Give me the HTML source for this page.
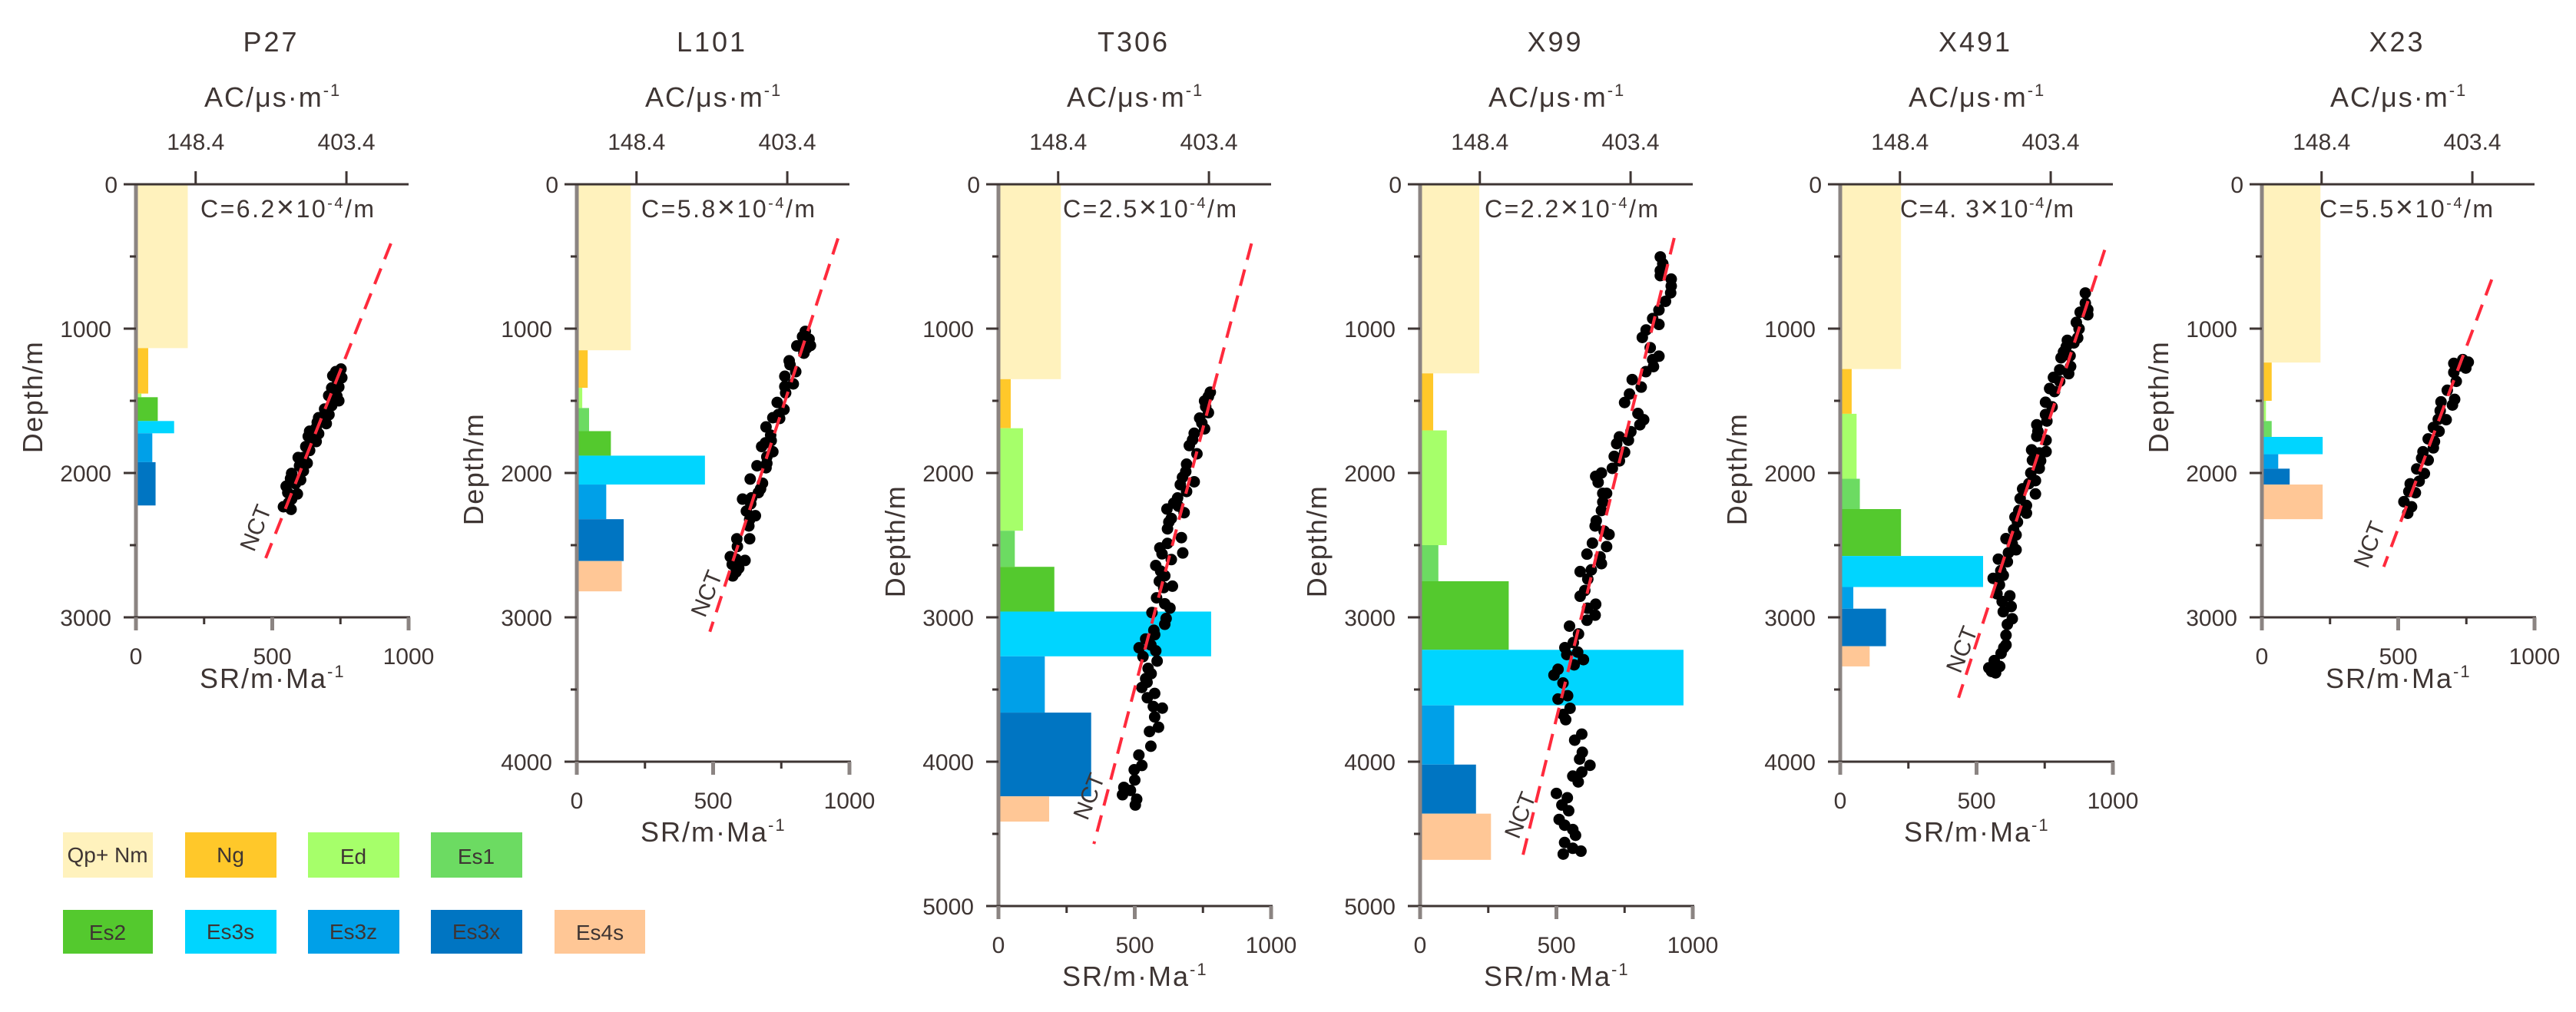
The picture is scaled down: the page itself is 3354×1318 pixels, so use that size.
<!DOCTYPE html>
<html lang="en">
<head>
<meta charset="utf-8">
<title>Sedimentation rate and acoustic compaction profiles</title>
<style>
html,body{margin:0;padding:0;background:#fff;}
svg{display:block;font-family:"Liberation Sans",Arial,sans-serif;fill:#3e3533;}
</style>
</head>
<body>
<svg id="chart" xmlns="http://www.w3.org/2000/svg" width="3354" height="1318" viewBox="0 0 3354 1318">
  <rect x="0" y="0" width="3354" height="1318" fill="#ffffff"/>
  <g id="wells"></g>
  <g font-size="28" text-anchor="middle">
    <g><rect x="82" y="1084" width="117" height="59" fill="#FFF2BD"/><text x="140" y="1123">Qp+ Nm</text></g>
    <g><rect x="241" y="1084" width="119" height="59" fill="#FFC82A"/><text x="300" y="1123">Ng</text></g>
    <g><rect x="401" y="1084" width="119" height="59" fill="#A6FF6A"/><text x="460" y="1125">Ed</text></g>
    <g><rect x="561" y="1084" width="119" height="59" fill="#6CDB62"/><text x="620" y="1125">Es1</text></g>
    <g><rect x="82" y="1185" width="117" height="57" fill="#54C92E"/><text x="140" y="1224">Es2</text></g>
    <g><rect x="241" y="1185" width="119" height="57" fill="#00D5FF"/><text x="300" y="1223">Es3s</text></g>
    <g><rect x="401" y="1185" width="119" height="57" fill="#00A0E8"/><text x="460" y="1223">Es3z</text></g>
    <g><rect x="561" y="1185" width="119" height="57" fill="#0075C2"/><text x="620" y="1223">Es3x</text></g>
    <g><rect x="722" y="1185" width="118" height="57" fill="#FFC796"/><text x="781" y="1224">Es4s</text></g>
  </g>
</svg>
<script>
const srTicks = [0, 500, 1000];
const srMinorTicks = [250, 750];
const acTickLabels = ['148.4', '403.4'];
const acTickSR = [219, 772];

const p27Strata = ['Qp','Ng','Ed','Es2','Es3s','Es3z','Es3x'];
const p27Tops = [0,1135,1450,1475,1640,1725,1925];
const p27Bases = [1135,1450,1475,1640,1725,1925,2225];
const p27Rates = [190,45,20,80,140,60,72];
const p27SR = [752,733,722,755,740,718,744,731,707,737,744,718,692,708,670,693,665,698,637,661,670,632,646,661,623,637,595,614,628,600,571,614,567,604,551,585,557,592,571,560,541,569];
const p27Depth = [1280,1298,1326,1340,1365,1411,1404,1436,1464,1468,1500,1533,1557,1596,1617,1635,1649,1658,1711,1688,1728,1746,1773,1782,1817,1844,1893,1893,1932,1950,2003,1986,2039,2048,2092,2074,2136,2145,2181,2207,2234,2252];
const p27Nct = [[935,410],[476,2590]];

const l101Strata = ['Qp','Ng','Ed','Es1','Es2','Es3s','Es3z','Es3x','Es4s'];
const l101Tops = [0,1150,1410,1550,1710,1880,2080,2320,2610];
const l101Bases = [1150,1410,1550,1710,1880,2080,2320,2610,2820];
const l101Rates = [198,40,20,45,125,470,108,172,165];
const l101SR = [838,828,852,838,857,807,843,833,779,782,803,763,794,763,766,735,760,739,719,744,694,711,713,692,678,719,697,697,661,694,636,681,674,666,608,641,638,622,655,634,631,634,587,589,563,617,584,570,594,584,572];
const l101Depth = [1019,1055,1073,1099,1117,1120,1135,1170,1223,1250,1298,1330,1383,1401,1445,1511,1560,1596,1617,1622,1681,1738,1776,1791,1817,1853,1888,1933,1950,1964,2042,2071,2110,2136,2181,2172,2213,2264,2296,2323,2367,2456,2456,2509,2580,2606,2597,2633,2659,2686,2713];
const l101Nct = [[958,375],[488,3100]];

const t306Strata = ['Qp','Ng','Ed','Es1','Es2','Es3s','Es3z','Es3x','Es4s'];
const t306Tops = [0,1350,1690,2400,2650,2960,3270,3660,4240];
const t306Bases = [1350,1690,2400,2650,2960,3270,3660,4240,4415];
const t306Rates = [229,45,90,60,205,780,170,340,186];
const t306SR = [777,770,756,770,746,756,718,700,728,690,687,718,667,690,657,643,618,681,634,620,671,620,592,676,634,577,610,638,606,580,610,629,563,615,610,573,540,559,516,577,530,582,549,540,526,573,546,568,601,573,587,554,559,515,526,498,500,460,484,455,507,502,760,738,712,675,660,625,600,595,590,570,560,545];
const t306Depth = [1440,1470,1501,1582,1654,1694,1725,1810,1867,1939,1990,2061,2081,2128,2173,2209,2250,2275,2315,2387,2448,2488,2519,2554,2600,2641,2712,2784,2794,2865,2906,2936,2967,3008,3048,3120,3150,3191,3211,3232,3272,3303,3354,3425,3486,3527,3557,3618,3629,3690,3761,3791,3893,3954,4026,4056,4127,4178,4199,4229,4260,4300,1540,1620,1770,2030,2230,2340,2560,2680,2750,3090,3390,3450];
const t306Nct = [[928,410],[350,4570]];

const x99Strata = ['Qp','Ng','Ed','Es1','Es2','Es3s','Es3z','Es3x','Es4s'];
const x99Tops = [0,1310,1705,2500,2750,3225,3610,4020,4360];
const x99Bases = [1310,1705,2500,2750,3225,3610,4020,4360,4680];
const x99Rates = [217,48,98,67,325,966,125,205,260];
const x99SR = [881,890,881,881,921,921,919,900,876,853,876,829,815,844,876,853,856,828,778,811,768,750,799,820,806,773,731,764,721,750,712,731,705,665,644,653,670,684,670,665,646,642,675,693,684,632,612,660,665,628,587,615,604,587,614,644,642,612,548,581,562,531,578,538,599,565,506,491,524,541,506,550,524,534,593,567,595,585,623,593,560,580,500,540,520,545,510,530,560,570,530,560,525,590];
const x99Depth = [503,550,598,633,657,705,752,811,871,930,971,1009,1061,1132,1191,1215,1263,1298,1353,1405,1453,1512,1588,1631,1666,1714,1750,1773,1797,1856,1885,1916,1968,2000,2023,2065,2141,2141,2201,2260,2331,2367,2403,2426,2510,2486,2562,2581,2628,2671,2683,2735,2814,2854,2937,2909,2985,3020,3061,3115,3175,3210,3241,3258,3293,3329,3360,3400,3455,3543,3566,3630,3673,3709,3809,3851,3935,3982,4025,4072,4100,4140,4220,4250,4300,4340,4400,4440,4470,4510,4560,4600,4640,4620];
const x99Nct = [[932,372],[373,4680]];

const x491Strata = ['Qp','Ng','Ed','Es1','Es2','Es3s','Es3z','Es3x','Es4s'];
const x491Tops = [0,1280,1590,2040,2250,2575,2790,2940,3200];
const x491Bases = [1280,1590,2040,2250,2575,2790,2940,3200,3340];
const x491Rates = [223,42,60,72,223,524,48,168,108];
const x491SR = [899,899,908,908,880,866,876,871,833,857,829,819,843,810,845,805,838,782,805,768,786,753,777,753,758,721,725,721,755,702,755,730,705,735,730,699,716,692,669,716,660,683,683,655,641,650,636,645,608,631,645,617,580,613,589,598,561,584,575,622,594,627,598,631,613,608,608,600,590,565,545,585,570,555];
const x491Depth = [753,824,868,904,886,957,1001,1064,1081,1099,1126,1161,1188,1202,1262,1285,1312,1338,1365,1415,1436,1510,1542,1595,1640,1666,1711,1746,1773,1840,1852,1861,1911,1915,1968,2000,2053,2074,2110,2145,2177,2225,2278,2260,2305,2340,2393,2429,2455,2491,2532,2553,2597,2615,2677,2709,2730,2775,2837,2851,2890,2925,2961,3010,3049,3124,3191,3210,3250,3300,3350,3340,3385,3375];
const x491Nct = [[970,455],[434,3557]];

const x23Strata = ['Qp','Ng','Ed','Es1','Es3s','Es3z','Es3x','Es4s'];
const x23Tops = [0,1235,1500,1640,1750,1870,1970,2080];
const x23Bases = [1235,1500,1640,1750,1870,1970,2080,2320];
const x23Rates = [215,36,15,36,223,60,102,223];
const x23SR = [737,757,704,748,723,704,713,680,707,657,699,654,647,676,629,650,610,633,629,591,610,586,568,596,544,577,563,539,521,549,535];
const x23Depth = [1215,1232,1241,1273,1259,1303,1365,1427,1490,1507,1529,1569,1628,1631,1685,1711,1764,1782,1826,1853,1911,1897,1972,2004,2075,2057,2137,2128,2199,2234,2279];
const x23Nct = [[843,660],[447,2650]];

const strataColors = {Qp:'#FFF2BD',Ng:'#FFC82A',Ed:'#A6FF6A',Es1:'#6CDB62',Es2:'#54C92E',Es3s:'#00D5FF',Es3z:'#00A0E8',Es3x:'#0075C2',Es4s:'#FFC796'};

const NS = 'http://www.w3.org/2000/svg';
const root = document.getElementById('wells');

function make(parent, tag, attrs, txt) {
  const el = document.createElementNS(NS, tag);
  for (const k in attrs) el.setAttribute(k, attrs[k]);
  if (txt !== undefined) el.textContent = txt;
  parent.appendChild(el);
  return el;
}

function drawWell(well, left, depthMax, strata, tops, bases, rates, srs, depths, nct, cValue, cOffset, nctSR, nctDepth) {
  const top = 240;
  const sx = v => left + v * 0.355;
  const sy = d => top + d * 0.188;
  const bottom = sy(depthMax);

  const g = make(root, 'g', {});
  
  

  const title = make(g, 'text', {x: left + 176, y: 67, 'font-size': 36, 'text-anchor': 'middle', 'letter-spacing': 3}, well);
  
  

  strata.forEach((s, i) => {
    const bar = make(g, 'rect', {x: sx(0), y: sy(tops[i]), width: sx(rates[i]) - sx(0), height: sy(bases[i]) - sy(tops[i]), fill: strataColors[s]});
    
    
  });

  srs.forEach((v, i) => {
    const dot = make(g, 'circle', {cx: sx(v), cy: sy(depths[i]), r: 7.5, fill: '#000000'});
    
    
  });

  const line = make(g, 'line', {x1: sx(nct[0][0]), y1: sy(nct[0][1]), x2: sx(nct[1][0]), y2: sy(nct[1][1]), stroke: '#FF2A3C', 'stroke-width': 4, 'stroke-dasharray': '22 13'});
  
  

  const nctLabel = make(g, 'text', {'font-size': 30, 'text-anchor': 'middle', 'dominant-baseline': 'middle', transform: 'translate(' + sx(nctSR) + ' ' + sy(nctDepth) + ') rotate(-68)'}, 'NCT');
  
  

  const yAxis = make(g, 'line', {x1: left, y1: top, x2: left, y2: bottom + 17, stroke: '#8b8482', 'stroke-width': 5});
  
  

  const topAxis = make(g, 'line', {x1: left - 16, y1: top, x2: sx(1000), y2: top, stroke: '#3e3533', 'stroke-width': 3});
  
  

  const bottomAxis = make(g, 'line', {x1: left - 16, y1: bottom, x2: sx(1000) + 2, y2: bottom, stroke: '#3e3533', 'stroke-width': 3});
  
  

  acTickSR.forEach((v, i) => {
    const t = make(g, 'line', {x1: sx(v), y1: top, x2: sx(v), y2: top - 17, stroke: '#3e3533', 'stroke-width': 3});
    
    
    const l = make(g, 'text', {x: sx(v), y: 195, 'font-size': 30, 'text-anchor': 'middle'}, acTickLabels[i]);
    
    
  });

  srTicks.forEach(v => {
    const t = make(g, 'line', {x1: sx(v), y1: bottom, x2: sx(v), y2: bottom + 17, stroke: '#8b8482', 'stroke-width': 5});
    
    
    const l = make(g, 'text', {x: sx(v), y: bottom + 61, 'font-size': 30, 'text-anchor': 'middle'}, String(v));
    
    
  });

  srMinorTicks.forEach(v => {
    const t = make(g, 'line', {x1: sx(v), y1: bottom, x2: sx(v), y2: bottom + 9, stroke: '#3e3533', 'stroke-width': 3});
    
    
  });

  for (let d = 0; d <= depthMax; d += 500) {
    if (d % 1000 === 0) {
      if (d > 0 && d < depthMax) {
        const t = make(g, 'line', {x1: left - 16, y1: sy(d), x2: left, y2: sy(d), stroke: '#3e3533', 'stroke-width': 3});
        
        
      }
      const l = make(g, 'text', {x: d === 0 ? left - 24 : left - 32, y: sy(d) + 11, 'font-size': 30, 'text-anchor': 'end'}, String(d));
      
      
    } else {
      const t = make(g, 'line', {x1: left - 8, y1: sy(d), x2: left, y2: sy(d), stroke: '#3e3533', 'stroke-width': 3});
      
      
    }
  }

  const depthTitle = make(g, 'text', {'font-size': 36, 'text-anchor': 'middle', 'letter-spacing': 1.5, transform: 'translate(' + (left - 122) + ' ' + ((top + bottom) / 2 - 5) + ') rotate(-90)'}, 'Depth/m');
  
  

  const acTitle = make(g, 'text', {x: left + 89, y: 139, 'font-size': 36, 'letter-spacing': 2}, 'AC/μs·m');
  make(acTitle, 'tspan', {'font-size': 22, dy: -14}, '-1');
  
  

  const srTitle = make(g, 'text', {x: left + 83, y: bottom + (depthMax === 3000 ? 92 : 104), 'font-size': 36, 'letter-spacing': 2}, 'SR/m·Ma');
  make(srTitle, 'tspan', {'font-size': 22, dy: -14}, '-1');
  
  

  const cText = make(g, 'text', {x: left + cOffset, y: 283, 'font-size': 32, textLength: 226, lengthAdjust: 'spacing'}, 'C=' + cValue);
  make(cText, 'tspan', {'font-size': 40}, '×');
  make(cText, 'tspan', {}, '10');
  make(cText, 'tspan', {'font-size': 20, dy: -12}, '-4');
  make(cText, 'tspan', {dy: 12}, '/m');
  
  
}

drawWell('P27', 177, 3000, p27Strata, p27Tops, p27Bases, p27Rates, p27SR, p27Depth, p27Nct, '6.2', 84, 445, 2385);
drawWell('L101', 751, 4000, l101Strata, l101Tops, l101Bases, l101Rates, l101SR, l101Depth, l101Nct, '5.8', 84, 482, 2840);
drawWell('T306', 1300, 5000, t306Strata, t306Tops, t306Bases, t306Rates, t306SR, t306Depth, t306Nct, '2.5', 84, 338, 4245);
drawWell('X99', 1849, 5000, x99Strata, x99Tops, x99Bases, x99Rates, x99SR, x99Depth, x99Nct, '2.2', 84, 373, 4375);
drawWell('X491', 2396, 4000, x491Strata, x491Tops, x491Bases, x491Rates, x491SR, x491Depth, x491Nct, '4. 3', 78, 452, 3227);
drawWell('X23', 2945, 3000, x23Strata, x23Tops, x23Bases, x23Rates, x23SR, x23Depth, x23Nct, '5.5', 75, 400, 2500);
</script>
</body>
</html>
